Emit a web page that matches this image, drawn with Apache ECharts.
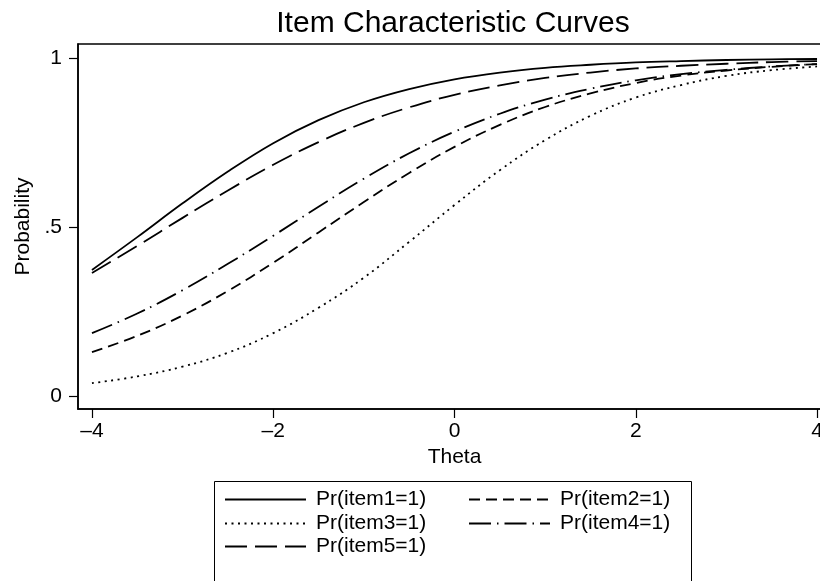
<!DOCTYPE html>
<html>
<head>
<meta charset="utf-8">
<script src="https://cdn.jsdelivr.net/npm/echarts@6/dist/echarts.min.js"></script>
<style>
  html, body { margin: 0; padding: 0; background: #fff; }
  #chart { width: 820px; height: 581px; }
</style>
</head>
<body>
<div id="chart"></div>
<script>
// theta grid
const theta = [-4, -3.5, -3, -2.5, -2, -1.5, -1, -0.5, 0, 0.5, 1, 1.5, 2, 2.5, 3, 3.5, 4]

// probabilities
const item1 = [0.373, 0.470, 0.570, 0.664, 0.748, 0.816, 0.869, 0.908, 0.937, 0.957, 0.971, 0.980, 0.987, 0.991, 0.994, 0.996, 0.997]
const item2 = [0.130, 0.178, 0.238, 0.311, 0.394, 0.484, 0.574, 0.660, 0.737, 0.802, 0.855, 0.895, 0.926, 0.948, 0.963, 0.974, 0.982]
const item3 = [0.038, 0.058, 0.087, 0.128, 0.186, 0.261, 0.350, 0.456, 0.565, 0.668, 0.757, 0.829, 0.883, 0.920, 0.947, 0.964, 0.975]
const item4 = [0.186, 0.244, 0.313, 0.391, 0.474, 0.560, 0.643, 0.718, 0.782, 0.835, 0.877, 0.909, 0.934, 0.952, 0.965, 0.975, 0.982]
const item5 = [0.364, 0.444, 0.527, 0.608, 0.684, 0.751, 0.808, 0.854, 0.891, 0.919, 0.941, 0.957, 0.969, 0.977, 0.983, 0.988, 0.991]

const xTicks = [-4, -2, 0, 2, 4]
const yTicks = [0, 0.5, 1]
const yTickLabels = ['0', '.5', '1']

const names = ['Pr(item1=1)', 'Pr(item2=1)', 'Pr(item3=1)', 'Pr(item4=1)', 'Pr(item5=1)']
const values = [item1, item2, item3, item4, item5]
const dashes = ['solid', [11, 6], [2, 4.5], [22, 6, 1.5, 6], [22, 8]]

const font = 'Liberation Sans, Arial, Helvetica, sans-serif'
const chart = echarts.init(document.getElementById('chart'), null, { renderer: 'canvas' })

const series = names.map((name, i) => ({
  name: name,
  type: 'line',
  data: theta.map((t, j) => [t, values[i][j]]),
  symbol: 'none',
  smooth: 0.4,
  lineStyle: { color: '#000', width: 1.8, type: dashes[i] },
  itemStyle: { color: '#000' },
  z: 5 - i
}))

// one legend per entry, laid out in two columns
const legendPos = [
  { left: 224, top: 489 },
  { left: 468, top: 489 },
  { left: 224, top: 513 },
  { left: 468, top: 513 },
  { left: 224, top: 536 }
]
const legends = names.map((name, i) => ({
  data: [name],
  left: legendPos[i].left,
  top: legendPos[i].top,
  itemWidth: 81,
  itemHeight: 14,
  padding: 0,
  selectedMode: false,
  itemStyle: { opacity: 0 },
  textStyle: { fontSize: 21, color: '#000', fontFamily: font, padding: [0, 0, 0, 5] }
}))

chart.setOption({
  backgroundColor: '#fff',
  animation: false,
  title: {
    text: 'Item Characteristic Curves',
    left: 448,
    textAlign: 'center',
    top: 4,
    textStyle: { fontSize: 30, fontWeight: 'normal', color: '#000', fontFamily: font }
  },
  legend: legends,
  grid: {
    left: 78,
    top: 44,
    width: 753,
    height: 365,
    show: true,
    borderColor: '#000',
    borderWidth: 1.5,
    containLabel: false,
    outerBoundsMode: 'none'
  },
  xAxis: {
    type: 'value',
    min: -4.154,
    max: 4.154,
    name: 'Theta',
    nameLocation: 'middle',
    nameGap: 35,
    nameTextStyle: { fontSize: 21, color: '#000', fontFamily: font },
    axisLine: { show: true, onZero: false, lineStyle: { color: '#000', width: 1.5 } },
    axisTick: { show: true, customValues: xTicks, length: 9, lineStyle: { color: '#000', width: 1.2 } },
    axisLabel: {
      customValues: xTicks,
      fontSize: 21,
      color: '#000',
      fontFamily: font,
      margin: 12,
      formatter: v => (v < 0 ? '\u2013' + Math.abs(v) : String(v))
    },
    splitLine: { show: false }
  },
  yAxis: {
    type: 'value',
    min: -0.0385,
    max: 1.0414,
    name: 'Probability',
    nameLocation: 'middle',
    nameGap: 43,
    nameTextStyle: { fontSize: 21, color: '#000', fontFamily: font },
    axisLine: { show: true, onZero: false, lineStyle: { color: '#000', width: 1.5 } },
    axisTick: { show: true, customValues: yTicks, length: 9, lineStyle: { color: '#000', width: 1.2 } },
    axisLabel: {
      customValues: yTicks,
      fontSize: 21,
      color: '#000',
      fontFamily: font,
      margin: 16,
      formatter: v => yTickLabels[yTicks.indexOf(Math.round(v * 10) / 10)] || ''
    },
    splitLine: { show: false }
  },
  graphic: [{
    type: 'rect',
    shape: { x: 214.5, y: 481.5, width: 477, height: 130 },
    style: { fill: 'none', stroke: '#000', lineWidth: 1 },
    silent: true,
    z: 0
  }],
  series: series
})
</script>
</body>
</html>
